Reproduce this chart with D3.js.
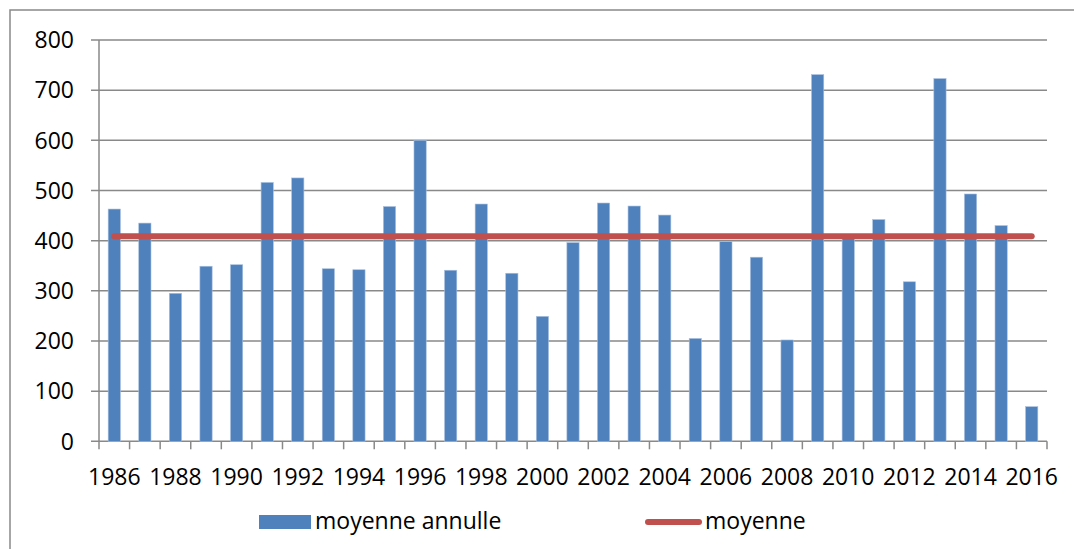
<!DOCTYPE html>
<html>
<head>
<meta charset="utf-8">
<script src="https://cdn.jsdelivr.net/npm/d3@7"></script>
<style>
  html, body { margin: 0; padding: 0; background: #fff; }
  svg { display: block; }
  text { font-family: "Open Sans", "Liberation Sans", sans-serif; fill: #000; }
</style>
</head>
<body>
<svg id="chart" width="1074" height="549"></svg>
<script>
const years = d3.range(1986, 2017);
const annualMeans = [463, 435, 295, 349, 352, 516, 525, 344, 342, 468,
                     600, 341, 473, 335, 249, 396, 475, 469, 451, 205,
                     398, 367, 202, 731, 404, 442, 318, 723, 493, 430, 69];
const overallMean = 409;
const yTicks = [0, 100, 200, 300, 400, 500, 600, 700, 800];
const xLabelYears = years.filter(y => (y - 1986) % 2 === 0);
const seriesNames = ["moyenne annulle", "moyenne"];

const svg = d3.select("#chart");
const plotLeft = 99, plotRight = 1047, plotTop = 40, plotBottom = 441.3;

const x = d3.scaleBand().domain(years).range([plotLeft, plotRight]).paddingInner(0.6).paddingOuter(0.3);
const y = d3.scaleLinear().domain([0, 800]).range([plotBottom, plotTop]);
const step = x.step();
const gridColor = "#898989";

// outer border (left and top visible)
svg.append("rect").attr("x", 10).attr("y", 10).attr("width", 1100).attr("height", 600)
  .attr("fill", "none").attr("stroke", gridColor).attr("stroke-width", 1.5);

// gridlines
svg.append("g").selectAll("line").data(yTicks).join("line")
  .attr("x1", plotLeft - 8).attr("x2", plotRight)
  .attr("y1", d => y(d)).attr("y2", d => y(d))
  .attr("stroke", gridColor).attr("stroke-width", 1.5);

// y axis line
svg.append("line").attr("x1", plotLeft).attr("x2", plotLeft).attr("y1", plotTop).attr("y2", plotBottom)
  .attr("stroke", gridColor).attr("stroke-width", 1.5);

// y labels
svg.append("g").selectAll("text").data(yTicks).join("text")
  .attr("x", 74).attr("y", d => y(d)).attr("dy", "0.36em")
  .attr("text-anchor", "end").attr("font-size", 23).text(d => d);

// bars
svg.append("g").selectAll("rect").data(years).join("rect")
  .attr("x", d => x(d)).attr("width", x.bandwidth())
  .attr("y", (d, i) => y(annualMeans[i]))
  .attr("height", (d, i) => y(0) - y(annualMeans[i]))
  .attr("fill", "#4F81BD").attr("stroke", "#A7BFDE").attr("stroke-width", 0.6);

// x ticks at category boundaries
const boundaries = years.map(d => x(d) + x.bandwidth() / 2 - step / 2).concat([plotRight]);
svg.append("g").selectAll("line").data(boundaries).join("line")
  .attr("x1", d => d).attr("x2", d => d).attr("y1", plotBottom).attr("y2", plotBottom + 8)
  .attr("stroke", gridColor).attr("stroke-width", 1.5);

// x labels
svg.append("g").selectAll("text").data(xLabelYears).join("text")
  .attr("x", d => x(d) + x.bandwidth() / 2).attr("y", 485)
  .attr("text-anchor", "middle").attr("font-size", 23).text(d => d);

// mean line
svg.append("line")
  .attr("x1", x(years[0]) + x.bandwidth() / 2).attr("x2", x(years[years.length - 1]) + x.bandwidth() / 2)
  .attr("y1", y(overallMean)).attr("y2", y(overallMean))
  .attr("stroke", "#C0504D").attr("stroke-width", 6).attr("stroke-linecap", "round");

// legend
svg.append("rect").attr("x", 259).attr("y", 515).attr("width", 52).attr("height", 14).attr("fill", "#4F81BD");
svg.append("text").attr("x", 315).attr("y", 529).attr("font-size", 23).text(seriesNames[0]);
svg.append("line").attr("x1", 648).attr("x2", 699).attr("y1", 522).attr("y2", 522)
  .attr("stroke", "#C0504D").attr("stroke-width", 6).attr("stroke-linecap", "round");
svg.append("text").attr("x", 705).attr("y", 529).attr("font-size", 23).text(seriesNames[1]);
</script>
</body>
</html>
